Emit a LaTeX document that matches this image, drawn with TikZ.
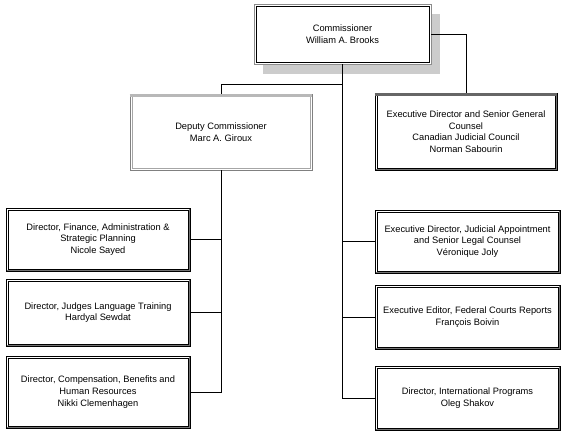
\documentclass[tikz,border=0pt]{standalone}
\usepackage{fontspec}
\setmainfont{Liberation Sans}
\usetikzlibrary{shadows}
\begin{document}
\begin{tikzpicture}[x=1pt,y=-1pt]
	\tikzstyle{unit}=[rectangle,draw=black,line width=0.8pt,fill=white,align=center,inner sep=0pt,font=\fontsize{9.3}{11.6}\selectfont]
	\tikzstyle{lower}=[unit,minimum width=184pt]
	\tikzstyle{frame}=[draw=black,line width=0.8pt]
	\tikzstyle{band}=[draw=black!55,line width=1.4pt]
	\tikzstyle{edge}=[draw,line width=0.8pt]
	\useasboundingbox (0,0) rectangle (563,437);
	\begin{scope}
		\node [unit,draw=black!45,minimum width=177pt,minimum height=60pt,
		       drop shadow={shadow xshift=9pt,shadow yshift=-10pt,fill=black!20,opacity=1}]
		       (comm) at (342.5,34) {Commissioner\\William A. Brooks};
		\node [unit,draw=black!50,minimum width=182pt,minimum height=76pt] (dep) at (221,132) {Deputy Commissioner\\Marc A. Giroux};
		\node [unit,minimum width=182pt,minimum height=77pt] (exec) at (466,131.5) {Executive Director and Senior General\\Counsel\\Canadian Judicial Council\\Norman Sabourin};

		\node [lower,minimum height=63pt] (fin) at (98,239.5) {Director, Finance, Administration \&\\Strategic Planning\\Nicole Sayed};
		\node [lower,minimum height=67pt] (lang) at (98,312.5) {Director, Judges Language Training\\Hardyal Sewdat};
		\node [lower,minimum height=72pt] (comp) at (98,392) {Director, Compensation, Benefits and\\Human Resources\\Nikki Clemenhagen};

		\node [lower,minimum width=185pt,minimum height=63pt] (appt) at (467.5,241.5) {Executive Director, Judicial Appointment\\and Senior Legal Counsel\\Véronique Joly};
		\node [lower,minimum width=185pt,minimum height=64pt] (fcr) at (467.5,317) {Executive Editor, Federal Courts Reports\\François Boivin};
		\node [lower,minimum width=185pt,minimum height=64pt] (intl) at (467.5,398) {Director, International Programs\\Oleg Shakov};

		% inner lines and 3d edges of the frames
		\foreach \n in {comm,exec,fin,lang,comp,appt,fcr,intl}
			\path[frame] ([shift={(2.4pt,-2.4pt)}]\n.north west) rectangle ([shift={(-2.4pt,2.4pt)}]\n.south east);
		\path[frame,draw=black!35] ([shift={(2.4pt,-2.4pt)}]dep.north west) rectangle ([shift={(-2.4pt,2.4pt)}]dep.south east);
		\foreach \n in {fin,lang,comp,appt,fcr,intl,exec}
			\path[band] ([shift={(-1.2pt,-1.2pt)}]\n.north east) -- ([shift={(-1.2pt,1.2pt)}]\n.south east) -- ([shift={(1.2pt,1.2pt)}]\n.south west);
		\path[band,line width=2.8pt,draw=black!60] ([yshift=-1.6pt]exec.north west) -- ([yshift=-1.6pt]exec.north east);
		\path[band,line width=2.8pt,draw=black!28] ([yshift=-1.6pt]dep.north west) -- ([yshift=-1.6pt]dep.north east);

		\coordinate (split) at (comm.south |- 0,84);
		\path[edge] (comm.east) -| (exec.north);
		\path[edge] (comm.south) -- (comm.south |- intl.west) -- (intl.west);
		\path[edge] (split) -| (dep.north);
		\path[edge] (comm.south |- appt.west) -- (appt.west);
		\path[edge] (comm.south |- fcr.west) -- (fcr.west);
		\path[edge] (dep.south) -- (dep.south |- comp.east) -- (comp.east);
		\path[edge] (dep.south |- fin.east) -- (fin.east);
		\path[edge] (dep.south |- lang.east) -- (lang.east);
	\end{scope}
\end{tikzpicture}
\end{document}
